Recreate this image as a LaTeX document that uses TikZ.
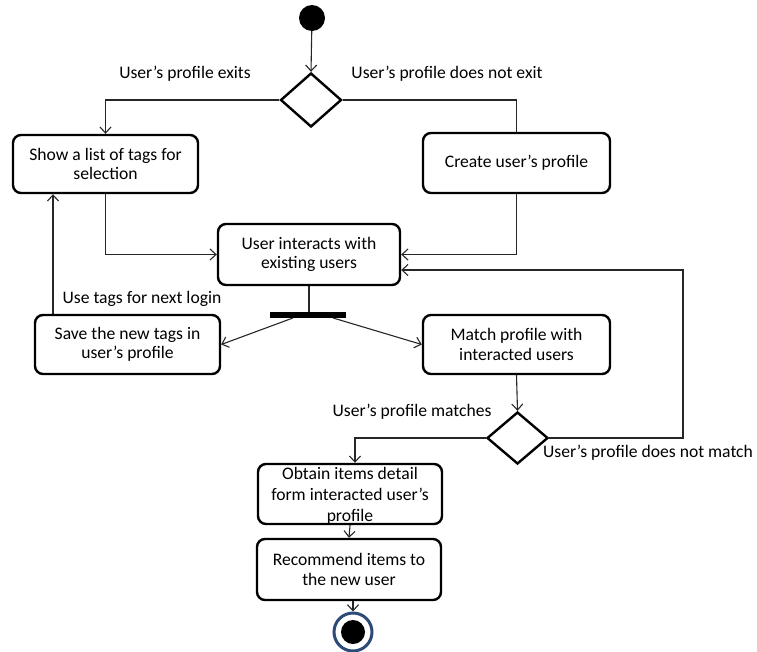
\documentclass[tikz,border=0pt]{standalone}
\usepackage{fontspec}
\setmainfont{Carlito}
\usetikzlibrary{arrows.meta,shapes.geometric}
\definecolor{ringblue}{HTML}{2E4A78}
\begin{document}
\begin{tikzpicture}[x=1pt,y=-1pt,
  font=\fontsize{17.6}{19.5}\selectfont,
  box/.style={draw, line width=2.4pt, rounded corners=8pt, align=center, inner sep=0pt},
  decision/.style={draw, diamond, line width=2.4pt, inner sep=0pt},
  flow/.style={line width=1.1pt, draw=black!85},
  arr/.style={flow, -{Straight Barb[length=6pt,width=11pt]}},
  lbl/.style={inner sep=0pt}
]
\useasboundingbox (0,0) rectangle (757,651);

% start and end states
\node[circle, fill, minimum size=26pt, inner sep=0pt] (start) at (312,18) {};
\node[circle, draw=ringblue, line width=3pt, fill=white, minimum size=38pt, inner sep=0pt] (stop) at (353,632) {};
\node[circle, fill, minimum size=24pt, inner sep=0pt] (stopdot) at (stop) {};

% decisions
\node[decision, minimum width=61pt, minimum height=54pt] (d1) at (311,100) {};
\node[decision, minimum width=61pt, minimum height=52pt] (d2) at (517.5,438) {};

% fork bar
\node[fill, minimum width=76pt, minimum height=5.5pt, inner sep=0pt] (fork) at (308,315) {};

% activities
\node[box, minimum width=185pt, minimum height=58pt] (tags) at (105.5,164) {Show a list of tags for\\selection};
\node[box, minimum width=187pt, minimum height=60pt] (create) at (516.5,163) {Create user’s profile};
\node[box, minimum width=182pt, minimum height=61pt] (interact) at (309,254.5) {User interacts with\\existing users};
\node[box, minimum width=185pt, minimum height=59pt] (save) at (127.5,344.5) {Save the new tags in\\user’s profile};
\node[box, minimum width=187pt, minimum height=59pt] (match) at (516.5,344.5) {Match profile with\\interacted users};
\node[box, minimum width=184pt, minimum height=60pt] (obtain) at (350,494) {};
\node[align=center, inner sep=0pt, font=\fontsize{17.6}{21}\selectfont] (obtaintext) at (350,496) {Obtain items detail\\form interacted user’s\\profile};
\node[box, minimum width=184pt, minimum height=61pt] (recommend) at (349,569.5) {Recommend items to\\the new user};

% guard labels
\node[lbl] (gexists) at (185,74) {User’s profile exits};
\node[lbl] (gnoexist) at (447,74) {User’s profile does not exit};
\node[lbl] (gnext) at (142,299) {Use tags for next login};
\node[lbl] (gmatch) at (412,412) {User’s profile matches};
\node[lbl] (gnomatch) at (648,453) {User’s profile does not match};

% flows
\draw[arr] (start) -- (d1.north);
\draw[arr] (d1.west) -| (tags.north);
\draw[flow] (d1.east) -| (create.north);
\draw[arr] (tags.south) |- (interact.west);
\draw[arr] (create.south) |- (interact.east);
\draw[flow] (interact.south) -- (interact.south |- fork.north);
\draw[arr] ([xshift=-15pt]fork.south) -- (save.east);
\draw[arr] ([xshift=25pt]fork.south) -- (match.west);
\draw[arr] ([xshift=-74.5pt]save.north) -- ([xshift=-74.5pt]save.north |- tags.south);
\draw[arr] (match.south) -- (d2.north);
\coordinate (loopcorner) at (683,270);
\draw[arr] (d2.east) -| (loopcorner) -- (loopcorner -| interact.east);
\draw[arr] (d2.west) -| ([xshift=5pt]obtain.north);
\draw[arr] (obtain.south) -- (recommend.north);
\draw[arr] (recommend.south -| stop) -- (stop.north);
\end{tikzpicture}
\end{document}
